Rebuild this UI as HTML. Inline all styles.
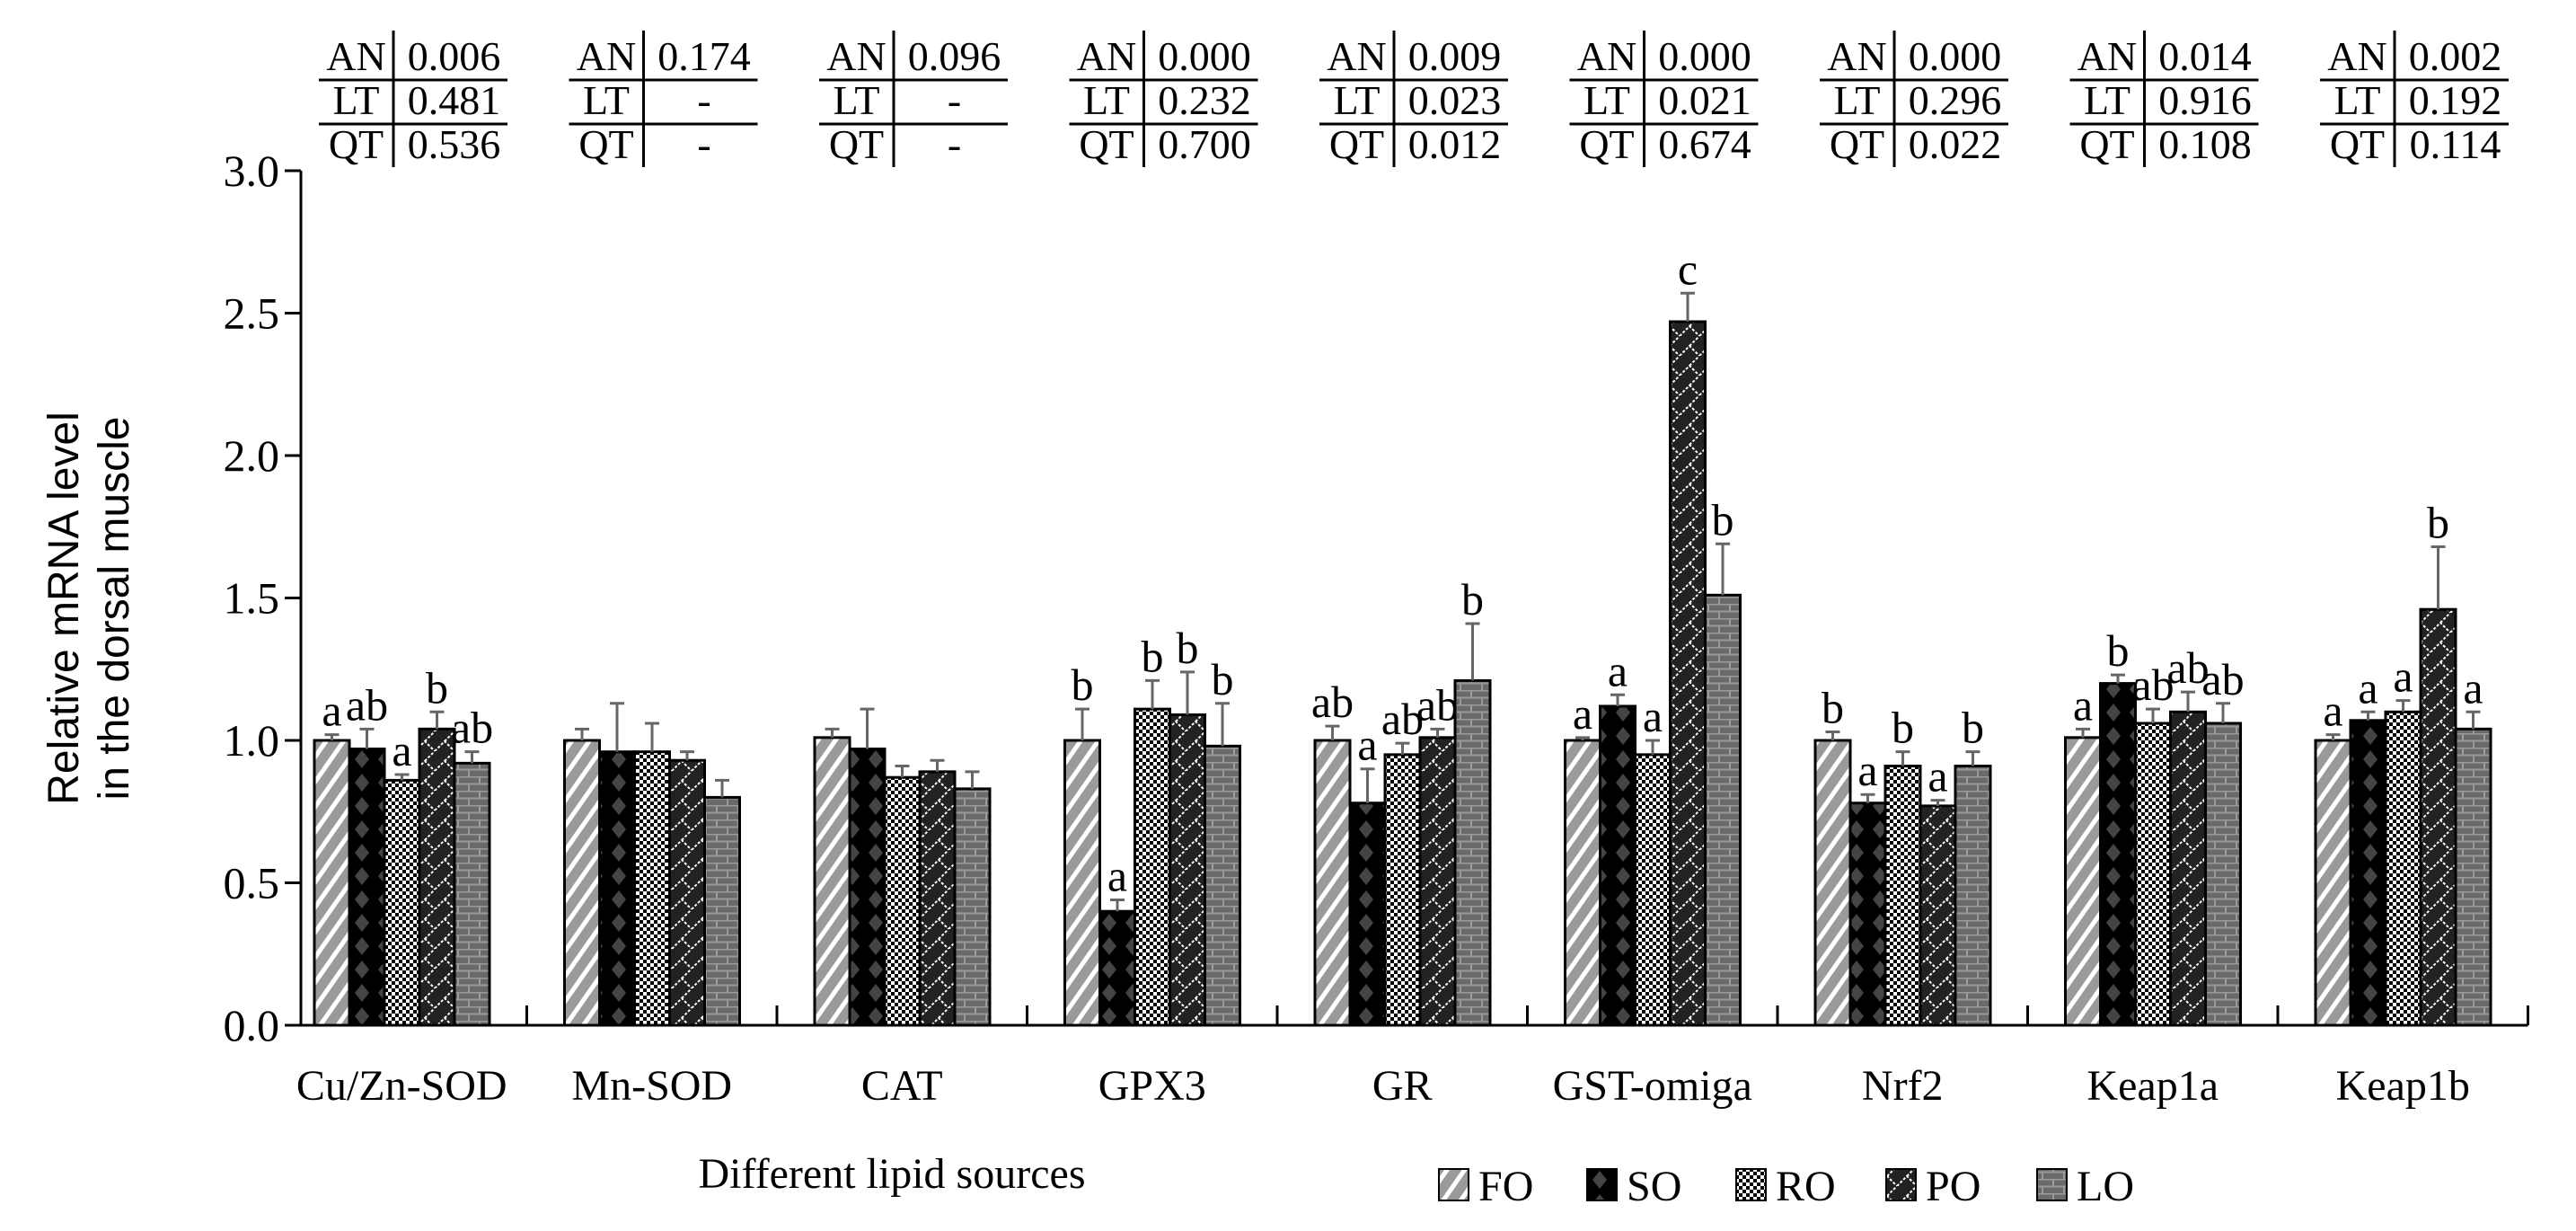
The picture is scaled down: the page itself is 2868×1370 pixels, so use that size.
<!DOCTYPE html>
<html><head><meta charset="utf-8"><style>
html,body{margin:0;padding:0;background:#fff;}
svg{display:block;}
text{font-family:"Liberation Serif",serif;fill:#000;}
</style></head><body>
<svg id="chart" width="2868" height="1370" viewBox="0 0 2868 1370" xmlns="http://www.w3.org/2000/svg">
<defs>
<pattern id="pFO" width="16" height="16" patternUnits="userSpaceOnUse" patternTransform="rotate(35)">
<rect width="16" height="16" fill="#9a9a9a"/><rect width="5" height="16" fill="#fff"/></pattern>
<pattern id="pSO" width="26" height="26" patternUnits="userSpaceOnUse">
<rect width="26" height="26" fill="#000"/><polygon points="13,3 21,13 13,23 5,13" fill="#444"/></pattern>
<pattern id="pRO" width="8" height="8" patternUnits="userSpaceOnUse">
<rect width="8" height="8" fill="#fff"/><rect width="4" height="4" fill="#000"/><rect x="4" y="4" width="4" height="4" fill="#000"/></pattern>
<pattern id="pPO" width="22" height="22" patternUnits="userSpaceOnUse">
<rect width="22" height="22" fill="#222"/><path d="M0,22 L11,11 L22,22 M11,11 L22,0" stroke="#fff" stroke-width="2" fill="none" stroke-dasharray="3,2"/></pattern>
<pattern id="pLO" width="24" height="16" patternUnits="userSpaceOnUse">
<rect width="24" height="16" fill="#6a6a6a"/><path d="M0,0.5H24M0,8.5H24M6,0V8M18,8V16" stroke="#9a9a9a" stroke-width="2"/></pattern>
</defs>
<g id="axes"></g><g id="bars"></g><g id="tables"></g><g id="legend"></g>
<text x="993" y="1322" font-size="48" text-anchor="middle">Different lipid sources</text>
<g transform="translate(97,677) rotate(-90)">
<text x="0" y="-10" font-size="48" text-anchor="middle" style="font-family:'Liberation Sans',sans-serif">Relative mRNA level</text>
<text x="0" y="46" font-size="48" text-anchor="middle" style="font-family:'Liberation Sans',sans-serif">in the dorsal muscle</text>
</g>
</svg>
<script>
const categories=["Cu/Zn-SOD","Mn-SOD","CAT","GPX3","GR","GST-omiga","Nrf2","Keap1a","Keap1b"];
const seriesNames=["FO","SO","RO","PO","LO"];
const valFO=[1.00,1.00,1.01,1.00,1.00,1.00,1.00,1.01,1.00];
const valSO=[0.97,0.96,0.97,0.40,0.78,1.12,0.78,1.20,1.07];
const valRO=[0.86,0.96,0.87,1.11,0.95,0.95,0.91,1.06,1.10];
const valPO=[1.04,0.93,0.89,1.09,1.01,2.47,0.77,1.10,1.46];
const valLO=[0.92,0.80,0.83,0.98,1.21,1.51,0.91,1.06,1.04];
const errFO=[0.02,0.04,0.03,0.11,0.05,0.01,0.03,0.03,0.02];
const errSO=[0.07,0.17,0.14,0.04,0.12,0.04,0.03,0.03,0.03];
const errRO=[0.02,0.10,0.04,0.10,0.04,0.05,0.05,0.05,0.04];
const errPO=[0.06,0.03,0.04,0.15,0.03,0.10,0.02,0.07,0.22];
const errLO=[0.04,0.06,0.06,0.15,0.20,0.18,0.05,0.07,0.06];
const letFO=["a","","","b","ab","a","b","a","a"];
const letSO=["ab","","","a","a","a","a","b","a"];
const letRO=["a","","","b","ab","a","b","ab","a"];
const letPO=["b","","","b","ab","c","a","ab","b"];
const letLO=["ab","","","b","b","b","b","ab","a"];
const pAN=["0.006","0.174","0.096","0.000","0.009","0.000","0.000","0.014","0.002"];
const pLT=["0.481","-","-","0.232","0.023","0.021","0.296","0.916","0.192"];
const pQT=["0.536","-","-","0.700","0.012","0.674","0.022","0.108","0.114"];
const yTicks=[0,0.5,1.0,1.5,2.0,2.5,3.0];
const yTickLabels=["0.0","0.5","1.0","1.5","2.0","2.5","3.0"];

const NS="http://www.w3.org/2000/svg";
const vals=[valFO,valSO,valRO,valPO,valLO];
const errs=[errFO,errSO,errRO,errPO,errLO];
const lets=[letFO,letSO,letRO,letPO,letLO];
const pats=["url(#pFO)","url(#pSO)","url(#pRO)","url(#pPO)","url(#pLO)"];
const Y0=1141,PXU=317,AX=335,G0=308,GW=278.5,PAD=42,BW=39;
function y(v){return Y0-v*PXU;}
function gx(i){return G0+i*GW;}
function mk(tag,attrs,parent,txt){const e=document.createElementNS(NS,tag);for(const k in attrs)e.setAttribute(k,attrs[k]);if(txt!==undefined)e.textContent=txt;parent.appendChild(e);return e;}
const axes=document.getElementById('axes');
let e=mk('line',{x1:AX,y1:y(3),x2:AX,y2:Y0+1.5,stroke:'#000','stroke-width':3},axes);


e=mk('line',{x1:AX,y1:Y0,x2:gx(9),y2:Y0,stroke:'#000','stroke-width':3},axes);


yTicks.forEach((t,i)=>{
  let l=mk('line',{x1:AX-18,y1:y(t),x2:AX,y2:y(t),stroke:'#000','stroke-width':3},axes);
  
  
  let tx=mk('text',{x:AX-24,y:y(t)+17,'font-size':50,'text-anchor':'end'},axes,yTickLabels[i]);
  
  
});
categories.forEach((c,i)=>{
  let l=mk('line',{x1:gx(i+1),y1:Y0-22,x2:gx(i+1),y2:Y0,stroke:'#000','stroke-width':3},axes);
  
  
  let tx=mk('text',{x:gx(i)+GW/2,y:1224,'font-size':48,'text-anchor':'middle'},axes,c);
  
  
});
const bars=document.getElementById('bars');
categories.forEach((c,i)=>{
  for(let s=0;s<5;s++){
    const v=vals[s][i],er=errs[s][i];
    const x=gx(i)+PAD+s*BW;
    let r=mk('rect',{x:x,y:y(v),width:BW,height:Y0-y(v),fill:pats[s],stroke:'#000','stroke-width':3},bars);
    
    
    const cx=x+BW/2;
    let el=mk('path',{d:`M${cx},${y(v)}V${y(v+er)}M${cx-8},${y(v+er)}H${cx+8}`,stroke:'#666','stroke-width':3,fill:'none'},bars);
    
    
    if(lets[s][i]){
      let t=mk('text',{x:cx,y:y(v+er)-10,'font-size':50,'text-anchor':'middle'},bars,lets[s][i]);
      
      
    }
  }
});
const tables=document.getElementById('tables');
categories.forEach((c,i)=>{
  const L=355+i*GW,D=L+83,R=L+210;
  const g=mk('g',{},tables);
  
  
  mk('line',{x1:L,y1:89,x2:R,y2:89,stroke:'#000','stroke-width':3},g);
  mk('line',{x1:L,y1:138,x2:R,y2:138,stroke:'#000','stroke-width':3},g);
  mk('line',{x1:D,y1:34,x2:D,y2:186,stroke:'#000','stroke-width':3},g);
  const rows=[["AN",pAN[i],78],["LT",pLT[i],127],["QT",pQT[i],176]];
  rows.forEach(rw=>{
    mk('text',{x:(L+D)/2,y:rw[2],'font-size':46,'text-anchor':'middle'},g,rw[0]);
    mk('text',{x:(D+R)/2+4,y:rw[2],'font-size':46,'text-anchor':'middle'},g,rw[1]);
  });
});
const legend=document.getElementById('legend');
const lx=[1602,1767,1933,2100,2268];
seriesNames.forEach((n,s)=>{
  const g=mk('g',{},legend);
  
  
  mk('rect',{x:lx[s],y:1301,width:33,height:35,fill:pats[s],stroke:'#000','stroke-width':2},g);
  mk('text',{x:lx[s]+44,y:1336,'font-size':48},g,n);
});
</script>
</body></html>
